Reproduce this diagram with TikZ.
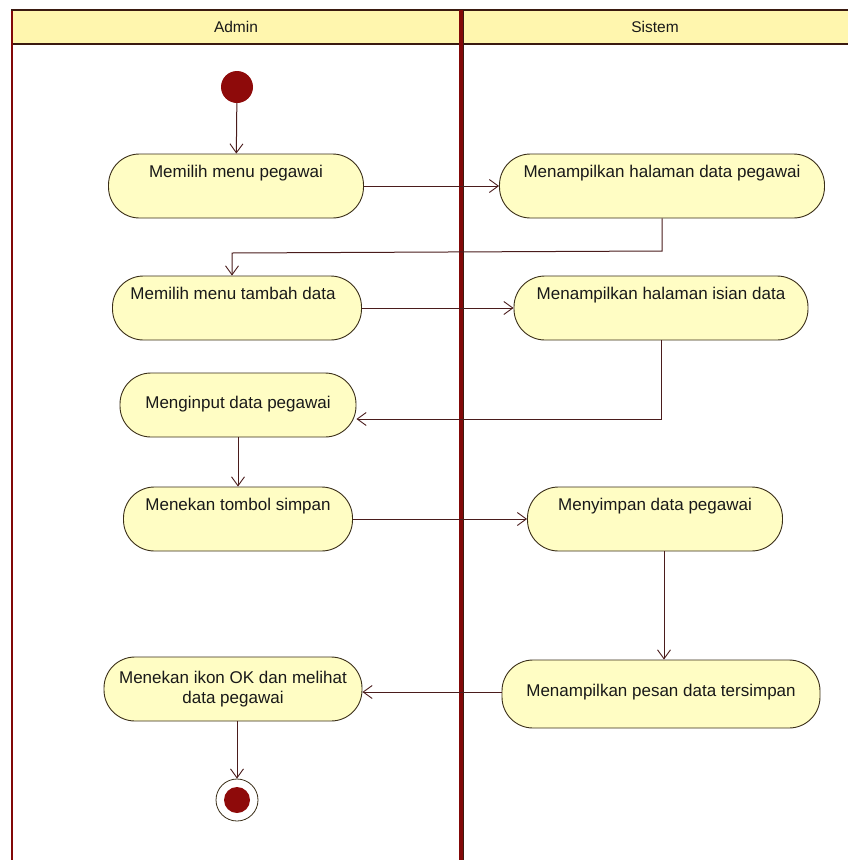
\documentclass[tikz,border=0pt]{standalone}
\usepackage{fontspec}
\setmainfont{Liberation Sans}
\usetikzlibrary{arrows.meta,calc}
\definecolor{lanered}{HTML}{820808}
\definecolor{laneedge}{HTML}{3A1A10}
\definecolor{headfill}{HTML}{FFF6AE}
\definecolor{actfill}{HTML}{FFFDC4}
\definecolor{actedge}{HTML}{3A2E18}
\definecolor{flowcol}{HTML}{4A1C1C}
\definecolor{dotred}{HTML}{8E0A0A}
\begin{document}
\begin{tikzpicture}[x=1pt,y=-1pt,
  activity/.style={draw=actedge, line width=0.9pt, fill=actfill,
    rounded corners=31pt, minimum height=64pt, inner sep=0pt},
  acttext/.style={font=\fontsize{17}{20}\selectfont, text=black!90, align=center},
  flow/.style={draw=flowcol, line width=1pt,
    -{Straight Barb[length=9pt,width=13pt,line width=0.9pt]}},
  lanehead/.style={font=\fontsize{15.5}{18}\selectfont, text=black!90}]
\useasboundingbox (0,0) rectangle (848,860);

% swimlane frame
\fill[headfill] (12,10) rectangle (848,44);
\draw[laneedge, line width=2.2pt] (848,10) -- (12,10) -- (12,860);
\draw[laneedge, line width=2.2pt] (12,44) -- (848,44);
\draw[lanered, line width=1.2pt] (12,11) -- (12,860);
\node[lanehead] (hadmin) at (236,27) {Admin};
\node[lanehead] (hsistem) at (655,27) {Sistem};

% activities
\node[activity, minimum width=255pt] (a1) at (236,186) {};
\node[activity, minimum width=325pt] (s1) at (662,186) {};
\node[activity, minimum width=249pt] (a2) at (237,308) {};
\node[activity, minimum width=294pt] (s2) at (661,308) {};
\node[activity, minimum width=236pt] (a3) at (238,405) {};
\node[activity, minimum width=229pt] (a4) at (238,519) {};
\node[activity, minimum width=255pt] (s3) at (655,519) {};
\node[activity, minimum width=258pt] (a5) at (233,689) {};
\node[activity, minimum width=318pt, minimum height=68pt] (s4) at (661,694) {};

\node[acttext, anchor=north] (t1) at ($(a1.north)+(0,8)$) {Memilih menu pegawai};
\node[acttext, anchor=north] (t2) at ($(s1.north)+(0,8)$) {Menampilkan halaman data pegawai};
\node[acttext, anchor=north] (t3) at ($(a2.north)+(-4,8)$) {Memilih menu tambah data};
\node[acttext, anchor=north] (t4) at ($(s2.north)+(0,8)$) {Menampilkan halaman isian data};
\node[acttext] (t5) at ($(a3)+(0,-1)$) {Menginput data pegawai};
\node[acttext, anchor=north] (t6) at ($(a4.north)+(0,8)$) {Menekan tombol simpan};
\node[acttext, anchor=north] (t7) at ($(s3.north)+(0,8)$) {Menyimpan data pegawai};
\node[acttext] (t8) at (a5) {Menekan ikon OK dan melihat\\data pegawai};
\node[acttext] (t9) at ($(s4)+(0,-2)$) {Menampilkan pesan data tersimpan};

% initial and final states
\node[circle, fill=dotred, minimum size=32pt, inner sep=0pt] (start) at (237,87) {};
\node[circle, draw=actedge, line width=0.8pt, fill=white, minimum size=42pt, inner sep=0pt] (stop) at (237,800) {};
\node[circle, fill=dotred, minimum size=26pt, inner sep=0pt] (stopdot) at (stop) {};

% lane divider drawn over the frame
\draw[laneedge, line width=5pt] (461,10) -- (461,860);
\draw[lanered, line width=3.2pt] (461,10) -- (461,860);

% control flows
\draw[flow] (start) -- (a1);
\draw[flow] (a1) -- (s1);
\coordinate (k1) at (662,251);
\draw[flow] (s1.south -| k1) -- (k1) -- (232,253) -- (a2.north -| 232,0);
\draw[flow] (a2.east |- 0,308) -- (s2.west |- 0,308);
\coordinate (k2) at (661,419);
\draw[flow] (s2.south -| k2) -- (k2) -- (a3.east |- k2);
\draw[flow] (a3) -- (a4);
\draw[flow] (a4) -- (s3);
\draw[flow] (s3.south -| 664,0) -- (s4.north -| 664,0);
\draw[flow] (s4.west |- 0,692) -- (a5.east |- 0,692);
\draw[flow] (a5.south -| stop) -- (stop);
\end{tikzpicture}
\end{document}
